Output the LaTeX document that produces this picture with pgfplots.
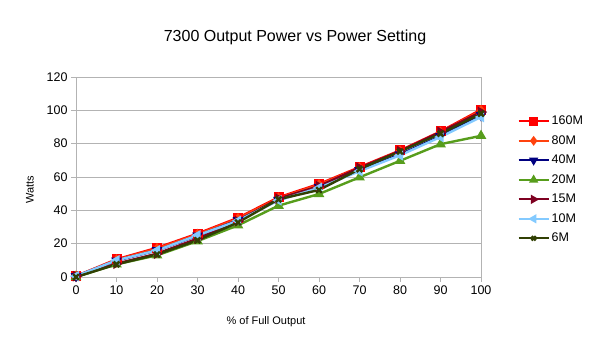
\documentclass[border=0pt]{standalone}
\usepackage{pgfplots}
\pgfplotsset{compat=1.18}
\usepackage{fontspec}
\setmainfont{Liberation Sans}
\definecolor{c160}{RGB}{255,0,0}
\definecolor{c80}{RGB}{255,66,14}
\definecolor{c40}{RGB}{0,0,128}
\definecolor{c20}{RGB}{87,157,28}
\definecolor{c15}{RGB}{126,0,33}
\definecolor{c10}{RGB}{131,202,255}
\definecolor{c6}{RGB}{49,64,4}
\definecolor{gridc}{RGB}{179,179,179}
\begin{document}
\begin{tikzpicture}
\useasboundingbox (0pt,0pt) rectangle (607pt,355pt);
\node[font=\fontsize{16}{18}\selectfont] at (295pt,318pt) {7300 Output Power vs Power Setting};
\node[font=\fontsize{11}{13}\selectfont,rotate=90] at (30pt,165pt) {Watts};
\node[font=\fontsize{11}{13}\selectfont] at (266pt,33pt) {\% of Full Output};
\begin{axis}[
  at={(76pt,78pt)}, anchor=south west,
  width=405pt, height=200pt, scale only axis,
  xmin=0, xmax=100, ymin=0, ymax=120,
  xtick={0,10,...,100}, ytick={0,20,...,120},
  xtick pos=bottom, ytick pos=left,
  ymajorgrids, major grid style={gridc, line width=0.8pt},
  axis line style={gridc, line width=0.8pt},
  tick style={gridc, line width=0.8pt},
  tick align=outside, major tick length=5pt,
  tick label style={font=\fontsize{12.5}{14}\selectfont},
  /pgf/number format/assume math mode=true,
  clip=false,
  legend style={at={(1.09,0.815)}, anchor=north west, draw=none, fill=none,
    font=\fontsize{12.5}{14}\selectfont, row sep=5.3pt, inner sep=0pt},
  legend cell align=left,
  legend image code/.code={\draw[#1, line width=2pt] (0pt,0pt) -- (30pt,0pt); \draw[#1, mark size=3pt] plot coordinates {(15pt,0pt)};},
  every axis plot/.append style={line width=2.4pt, mark size=3.8pt, mark options={solid}},
]
\addplot[c160, mark=square*] coordinates {(0,0.5) (10,10.6) (20,17.5) (30,26) (40,35.5) (50,47.8) (60,55.8) (70,65.9) (80,75.9) (90,87.3) (100,100.4)};
\addplot[c80, mark=diamond*] coordinates {(0,0.5) (10,10.2) (20,17) (30,25.5) (40,35) (50,47.3) (60,55.3) (70,65.5) (80,75.5) (90,86.8) (100,99.8)};
\addplot[c40, mark=triangle*, mark options={rotate=180}] coordinates {(0,0.5) (10,9.8) (20,16) (30,24.8) (40,34) (50,46.2) (60,54) (70,64) (80,73.5) (90,84.5) (100,97)};
\addplot[c20, mark=triangle*] coordinates {(0,0) (10,7.6) (20,13) (30,21.5) (40,31) (50,42.8) (60,49.8) (70,59.8) (80,69.7) (90,79.7) (100,84.7)};
\addplot[c15, mark=triangle*, mark options={rotate=-90}] coordinates {(0,0.5) (10,8) (20,14) (30,23) (40,33.5) (50,47) (60,54.5) (70,65.5) (80,75.5) (90,87) (100,99)};
\addplot[c10, mark=triangle*, mark options={rotate=90}] coordinates {(0,0.5) (10,10) (20,16) (30,25) (40,33.7) (50,46) (60,53.5) (70,63.5) (80,73) (90,84) (100,96)};
\addplot[c6, mark=x, mark size=4pt] coordinates {(0,0) (10,7.6) (20,13.5) (30,22) (40,32.7) (50,46.6) (60,52.2) (70,64.7) (80,75.3) (90,86) (100,98)};
\legend{160M,80M,40M,20M,15M,10M,6M}
\end{axis}
\end{tikzpicture}
\end{document}
